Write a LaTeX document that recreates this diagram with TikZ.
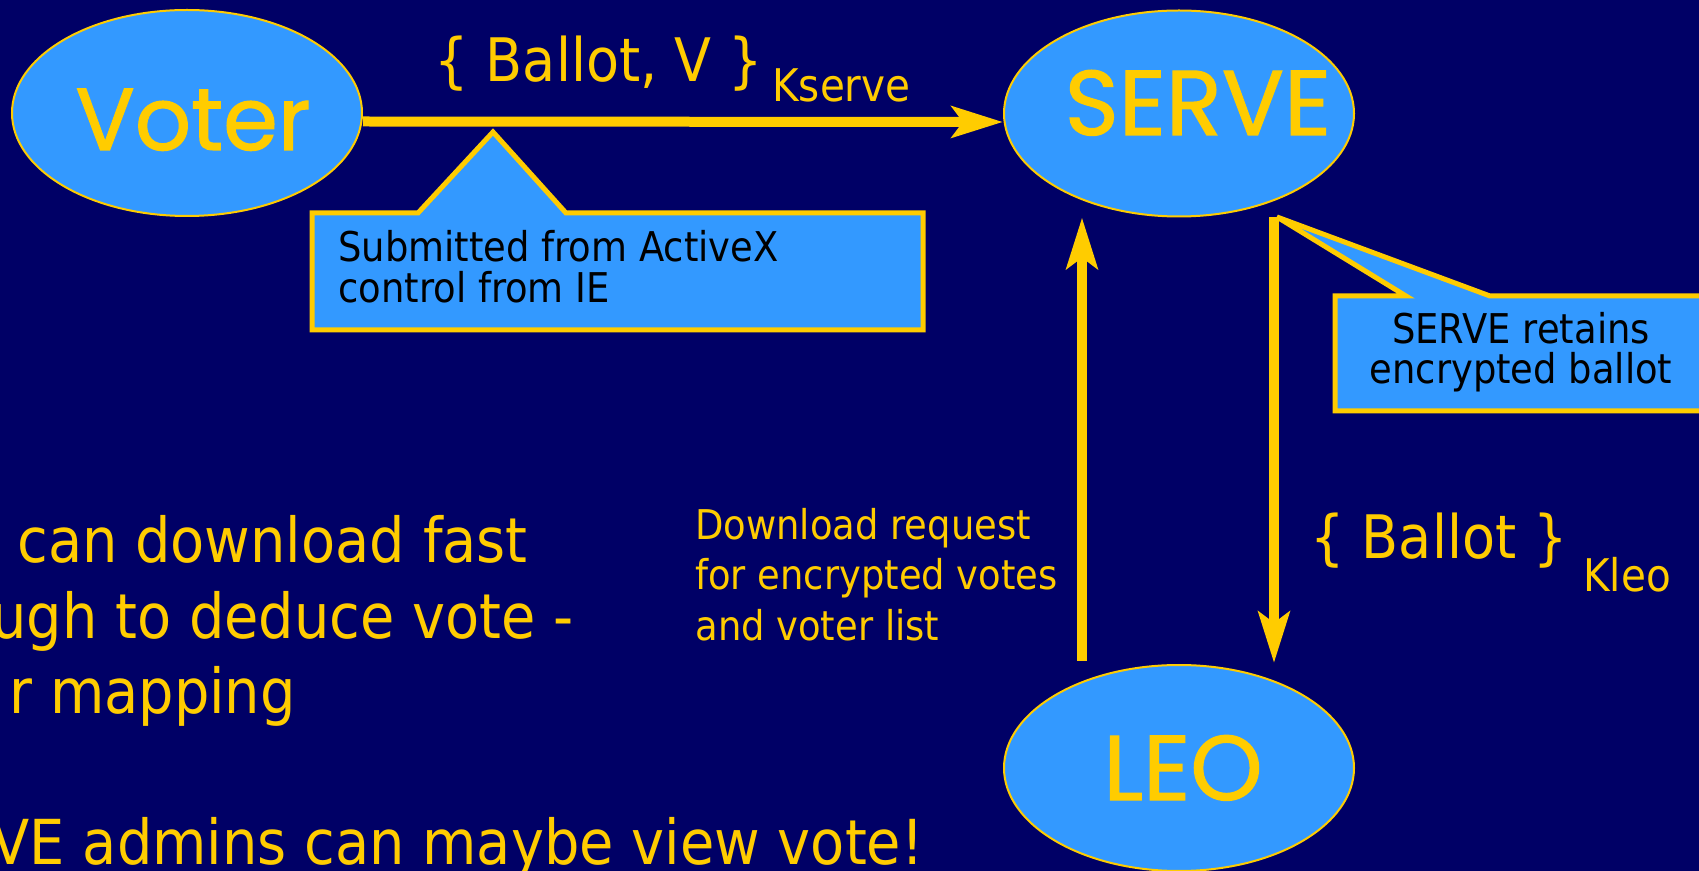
\documentclass[tikz,border=0pt]{standalone}
\usepackage{fontspec}
\setmainfont{DejaVu Sans}[FakeStretch=0.9]
\newfontfamily\comicfont{Poppins}[FakeBold=1.2]
\usetikzlibrary{shapes.geometric,arrows.meta}
\definecolor{navy}{RGB}{0,0,102}
\definecolor{skyb}{RGB}{51,153,255}
\definecolor{gold}{RGB}{255,204,0}
\begin{document}
\begin{tikzpicture}[x=0.5pt,y=-0.5pt,
  ent/.style={ellipse, draw=gold, line width=1pt, fill=skyb,
    minimum width=175pt, minimum height=103pt, inner sep=0pt},
  entlabel/.style={text=gold, inner sep=0pt, anchor=base,
    font=\comicfont\fontsize{46pt}{50pt}\selectfont},
  arr/.style={draw=gold, line width=5pt,
    -{Stealth[length=25.5pt,width=15.5pt,inset=5.5pt]}},
  callout/.style={draw=gold, line width=2.5pt, fill=skyb, line join=miter},
  boxtext/.style={text=black, inner sep=0pt,
    font=\fontsize{20.5pt}{20.5pt}\selectfont},
  note/.style={text=gold, inner sep=0pt,
    font=\fontsize{20.5pt}{25.25pt}\selectfont},
  bigtext/.style={text=gold, inner sep=0pt,
    font=\fontsize{30pt}{36pt}\selectfont},
  lefttext/.style={text=gold, inner sep=0pt,
    font=\fontsize{31pt}{38pt}\selectfont},
  subtext/.style={text=gold, inner sep=0pt,
    font=\fontsize{22.5pt}{26pt}\selectfont}]
\useasboundingbox (0,0) rectangle (1699,871);
\clip (0,0) rectangle (1699,871);
\fill[navy] (0,0) rectangle (1699,871);

% entities
\node[ent] (Voter) at (187,113) {};
\node[ent] (SERVE) at (1179,113.5) {};
\node[ent] (LEO) at (1179,768) {};
\node[entlabel, font=\comicfont\fontsize{44pt}{50pt}\selectfont] (VoterL) at (193,150) {Voter};
\node[entlabel] (SERVEL) at (1198,135) {SERVE};
\node[entlabel] (LEOL) at (1183,800) {LEO};

% callouts
\draw[callout] (312,213) -- (418,213) -- (493,132) -- (566,213) -- (923,213)
  -- (923,330) -- (312,330) -- cycle;
\node[boxtext, anchor=base west, align=left] (c1) at (338,303)
  {Submitted from ActiveX\\control from IE};
\draw[callout] (1335,296) -- (1406,296) -- (1277,217) -- (1490,296)
  -- (1720,296) -- (1720,411) -- (1335,411) -- cycle;
\node[boxtext, anchor=base, align=center,
  font=\fontsize{20.5pt}{20pt}\selectfont] (c2) at (1521,384)
  {SERVE retains\\encrypted ballot};

% arrows
\draw[arr] ([yshift=-4.25pt]Voter.east) -- ([yshift=-4.25pt]SERVE.west);
\draw[arr] ([xshift=-48.5pt,yshift=1.5pt]LEO.north) -- ([xshift=-48.5pt]SERVE.south);
\draw[arr] ([xshift=47.5pt]SERVE.south) -- ([xshift=47.5pt,yshift=0.5pt]LEO.north);

% arrow labels
\node[bigtext, anchor=base west] (m1) at (434,82) {\{ Ballot, V \}};
\node[subtext, anchor=base west] (m1k) at (772,102) {Kserve};
\node[bigtext, anchor=base west] (m2) at (1310,559) {\{ Ballot \}};
\node[subtext, anchor=base west] (m2k) at (1583,592) {Kleo};
\node[note, anchor=base west, align=left] (dl) at (695,640)
  {Download request\\for encrypted votes\\and voter list};

% partially visible bullet text
\node[lefttext, anchor=base west] (t1) at (17,563) {can download fast};
\node[lefttext, anchor=base east] (t2) at (574,639) {ugh to deduce vote -};
\node[lefttext, anchor=base west] (t3) at (9,713) {r mapping};
\node[lefttext, anchor=base east] (t4) at (924,864) {VE admins can maybe view vote!};
\end{tikzpicture}
\end{document}
